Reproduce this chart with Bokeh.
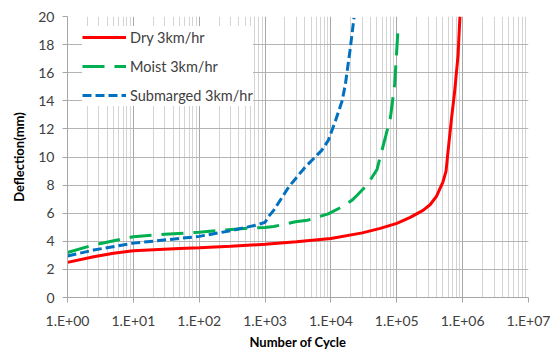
from bokeh.plotting import figure
from bokeh.models import Range1d, FixedTicker, Legend, LegendItem
from bokeh.embed import file_html
from bokeh.resources import INLINE

# ---- data ----
dry_cycles = [1, 2.5, 5, 10, 50, 100, 300, 1000, 3000, 10000, 30000, 56000, 100000,
              160000, 250000, 320000, 400000, 500000, 560000, 600000, 680000,
              750000, 850000, 910000]
dry_defl = [2.5, 2.9, 3.15, 3.33, 3.48, 3.54, 3.64, 3.79, 3.96, 4.2, 4.6, 4.92, 5.28,
            5.7, 6.2, 6.6, 7.2, 8.2, 9.0, 10.4, 12.8, 14.5, 17.2, 20.0]

moist_cycles = [1, 2.5, 10, 30, 100, 430, 1000, 1350, 2900, 4400, 9100, 14000,
                21000, 25000, 35000, 40000, 50000, 56000, 68000, 80000, 93000, 105000]
moist_defl = [3.2, 3.74, 4.33, 4.5, 4.65, 4.9, 4.99, 5.05, 5.39, 5.5, 5.95, 6.4,
              6.93, 7.28, 8.0, 8.4, 9.1, 10.0, 11.5, 12.8, 15.2, 19.3]

sub_cycles = [1, 2.5, 10, 50, 100, 300, 430, 720, 1000, 1120, 1350, 2290, 4070,
              7240, 9120, 11750, 14800, 16600, 19500, 22400]
sub_defl = [2.95, 3.38, 3.87, 4.2, 4.35, 4.75, 4.92, 5.14, 5.35, 5.74, 6.2, 7.87,
            9.29, 10.47, 11.18, 12.6, 14.0, 15.2, 17.6, 19.9]

x_ticks = [1, 10, 100, 1000, 10000, 100000, 1000000, 10000000]
x_tick_labels = ["1.E+00", "1.E+01", "1.E+02", "1.E+03", "1.E+04", "1.E+05",
                 "1.E+06", "1.E+07"]
y_ticks = [0, 2, 4, 6, 8, 10, 12, 14, 16, 18, 20]

series_names = ["Dry 3km/hr", "Moist 3km/hr", "Submarged 3km/hr"]

FONT = "Lato"
minor = [m * t for t in x_ticks[:-1] for m in range(2, 10)]

p = figure(width=559, height=352, x_axis_type="log",
           x_range=Range1d(1, 1e7), y_range=Range1d(0, 20),
           output_backend="svg", toolbar_location=None,
           min_border_left=67, min_border_right=31, min_border_top=16,
           min_border_bottom=54)
p.outline_line_color = None
p.background_fill_color = "white"

p.xaxis.ticker = FixedTicker(ticks=x_ticks, minor_ticks=minor)
p.xaxis.major_label_overrides = {t: l for t, l in zip(x_ticks, x_tick_labels)}
p.yaxis.ticker = FixedTicker(ticks=y_ticks)

for ax in (p.xaxis[0], p.yaxis[0]):
    ax.axis_line_color = "#a6a6a6"
    ax.major_tick_line_color = "#a6a6a6"
    ax.major_tick_out = 5
    ax.major_tick_in = 0
    ax.minor_tick_out = 0
    ax.minor_tick_in = 0
    ax.major_label_text_font = FONT
    ax.major_label_text_font_size = "14px"
    ax.major_label_text_color = "#404040"
    ax.axis_label_text_font = FONT
    ax.axis_label_text_font_size = "13px"
    ax.axis_label_text_font_style = "bold"
    ax.axis_label_text_color = "#000000"

p.xaxis.axis_label = "Number of Cycle"
p.yaxis.axis_label = "Deflection(mm)"
p.xaxis.major_label_standoff = 9
p.xaxis.axis_label_standoff = 2
p.yaxis.major_label_standoff = 8
p.yaxis.axis_label_standoff = 8

p.xgrid.grid_line_color = "#a8a8a8"
p.xgrid.minor_grid_line_color = "#d4d4d4"
p.ygrid.grid_line_color = "#b4b4b4"

r_dry = p.line(dry_cycles, dry_defl, line_color="#ff0000", line_width=3)
r_moist = p.line(moist_cycles, moist_defl, line_color="#00b050", line_width=3,
                 line_dash="22 10")
r_sub = p.line(sub_cycles, sub_defl, line_color="#0070c0", line_width=3,
               line_dash="9 4")

legend = Legend(items=[LegendItem(label=series_names[0], renderers=[r_dry]),
                       LegendItem(label=series_names[1], renderers=[r_moist]),
                       LegendItem(label=series_names[2], renderers=[r_sub])],
                location=(15, 191))
legend.margin = 0
legend.padding = 5
legend.spacing = 7
legend.glyph_width = 44
legend.glyph_height = 22
legend.label_height = 22
legend.label_standoff = 4
legend.border_line_color = None
legend.background_fill_color = "white"
legend.background_fill_alpha = 1.0
legend.label_text_font = FONT
legend.label_text_font_size = "14.5px"
legend.label_text_color = "#404040"
p.add_layout(legend, "center")

open("out.html", "w").write(file_html(p, INLINE))
